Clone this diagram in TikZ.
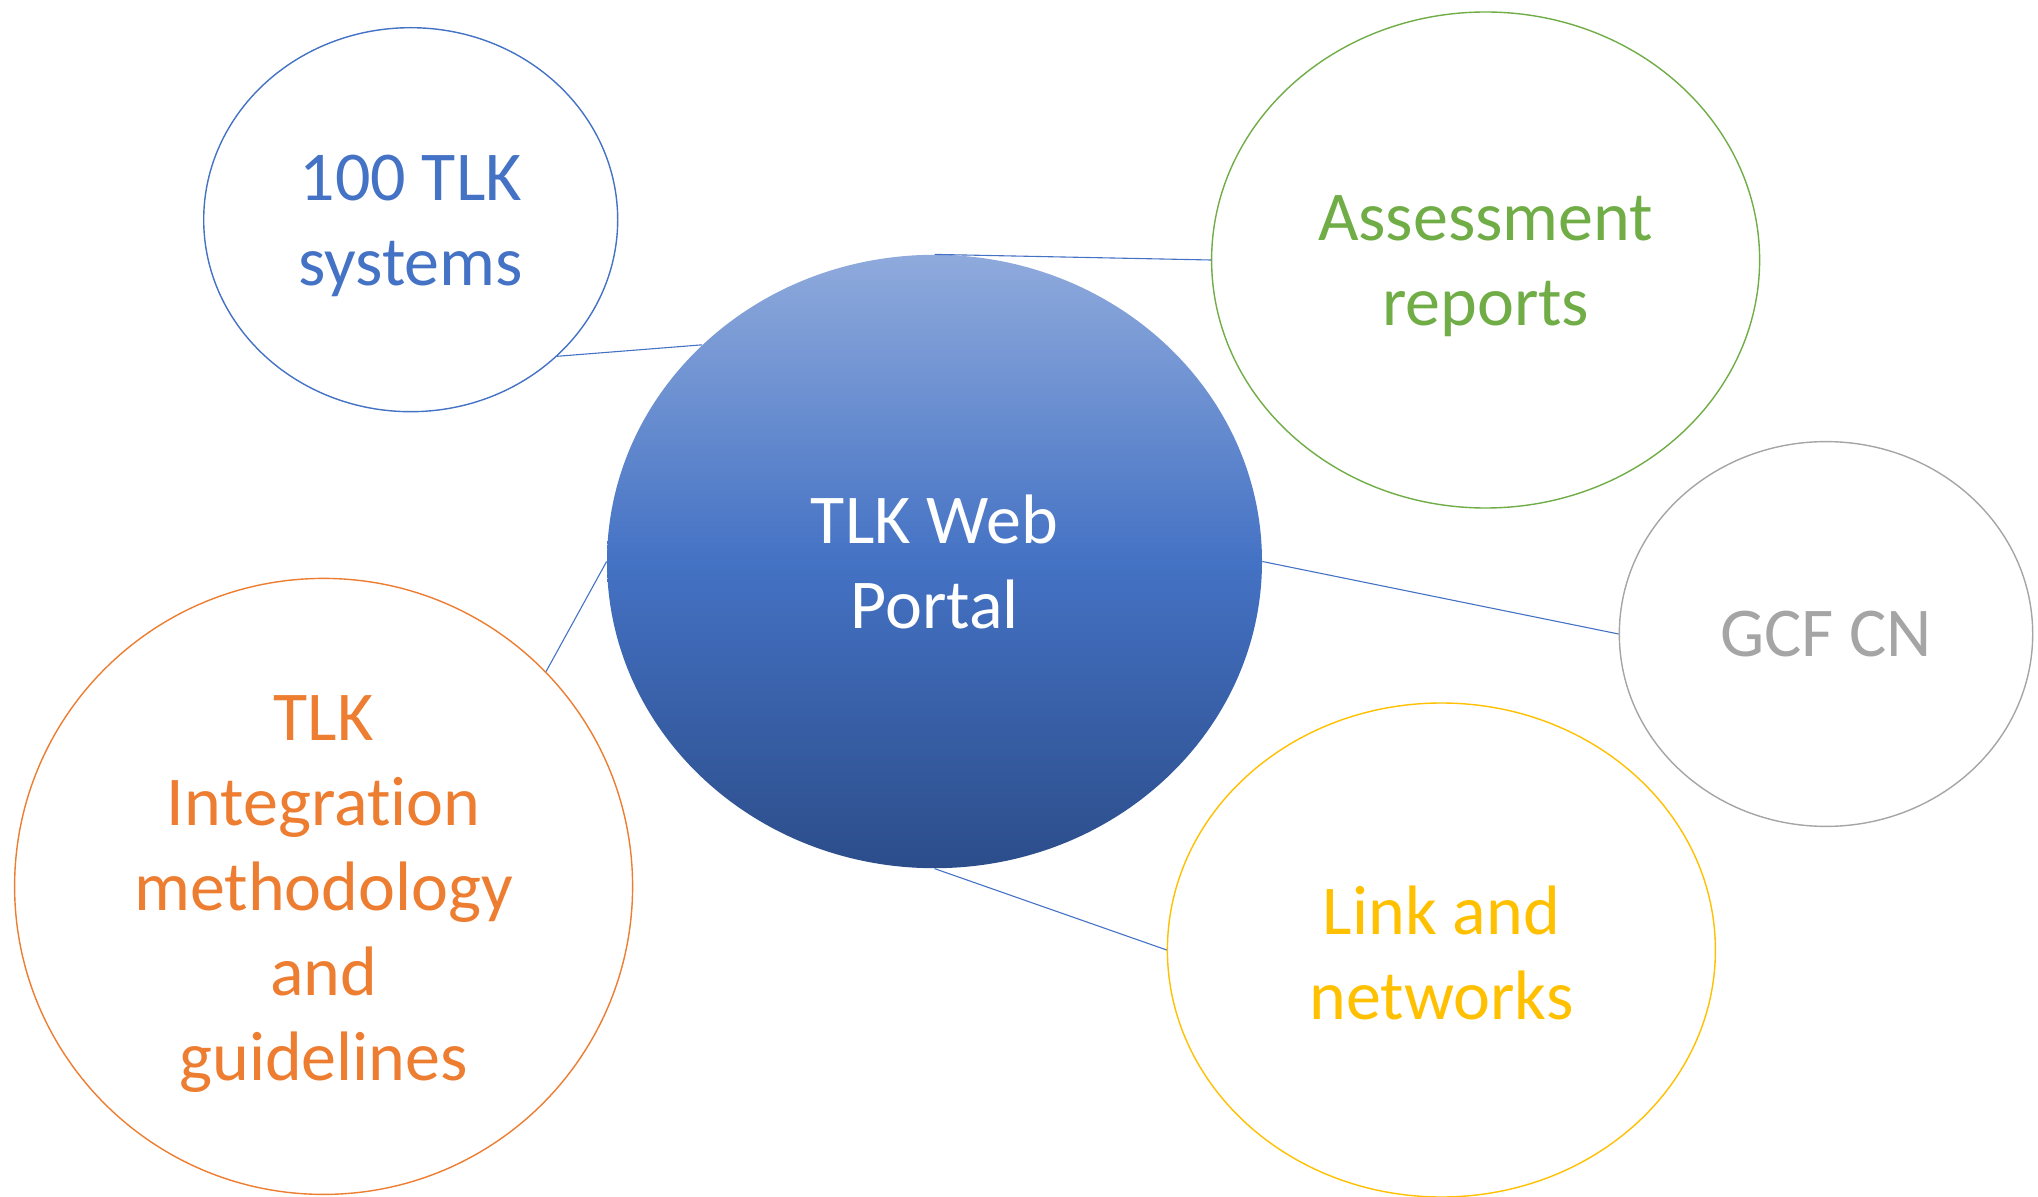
\documentclass[tikz,border=0pt]{standalone}
\usepackage{fontspec}
\setmainfont{Carlito}[Ligatures=NoCommon]
\usetikzlibrary{shapes.geometric}
\definecolor{cblue}{HTML}{4472C4}
\definecolor{cgreen}{HTML}{70AD47}
\definecolor{cgray}{HTML}{A5A5A5}
\definecolor{cgold}{HTML}{FFC000}
\definecolor{corange}{HTML}{ED7D31}
\definecolor{gtop}{HTML}{8FAADC}
\definecolor{gbot}{HTML}{2C4D8A}
\begin{document}
\begin{tikzpicture}[x=0.5pt,y=-0.5pt,
  bubble/.style={ellipse, draw, line width=0.7pt, inner sep=0pt, fill=white},
  lbl/.style={align=center, font=\fontsize{35}{42.5}\selectfont, inner sep=0pt},
  link/.style={draw=cblue, line width=0.55pt}]
\useasboundingbox (0,0) rectangle (2038,1197);
\node[bubble, draw=cblue, minimum width=207pt, minimum height=192pt] (sys) at (410.7,219.7) {};
\node[ellipse, inner sep=0pt, minimum width=327.5pt, minimum height=306.7pt,
      top color=gtop, bottom color=gbot, middle color=cblue] (portal) at (934.5,561.5) {};
\node[bubble, draw=cgreen, minimum width=274pt, minimum height=248pt] (assess) at (1485.6,260) {};
\node[bubble, draw=cgray, minimum width=206.7pt, minimum height=192.4pt] (gcf) at (1826,634) {};
\node[bubble, draw=cgold, minimum width=274pt, minimum height=247pt] (linknet) at (1441.4,950) {};
\node[bubble, draw=corange, minimum width=309pt, minimum height=308pt] (integ) at (323.6,886.4) {};
% texts
\node[lbl, text=cblue, yshift=-3pt] (tsys) at (sys.center) {100 TLK\\systems};
\node[lbl, text=white] (tportal) at (portal.center) {TLK Web\\Portal};
\node[lbl, text=cgreen, yshift=-3pt] (tassess) at (assess.center) {Assessment\\reports};
\node[lbl, text=cgray] (tgcf) at (gcf.center) {GCF CN};
\node[lbl, text=cgold, yshift=-1.5pt] (tlink) at (linknet.center) {Link and\\networks};
\node[lbl, text=corange, yshift=-4pt] (tinteg) at (integ.center) {TLK\\Integration\\methodology\\and\\guidelines};
% connectors
\draw[link] (sys.-43) -- (portal.137);
\draw[link] (portal.north) -- (assess.west);
\draw[link] (portal.east) -- (gcf.west);
\draw[link] (portal.south) -- (linknet.west);
\draw[link] (portal.west) -- (integ.44.6);
\end{tikzpicture}
\end{document}
